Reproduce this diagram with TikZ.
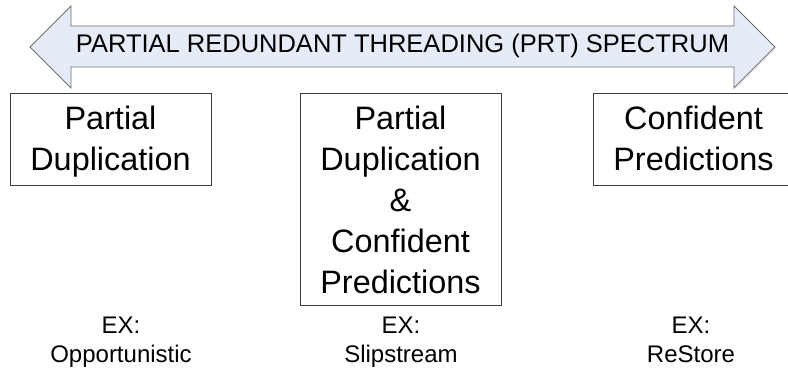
\documentclass[tikz,border=0pt]{standalone}
\usepackage{fontspec}
\setmainfont{Liberation Sans}
\definecolor{arrowfill}{RGB}{230,236,247}
\definecolor{arrowline}{RGB}{110,110,110}
\definecolor{boxline}{RGB}{60,60,60}
\begin{document}
\begin{tikzpicture}[x=1pt,y=-1pt,
  bigbox/.style={draw=boxline, line width=1pt, minimum width=201pt, inner sep=0pt, align=center,
    font=\fontsize{32.4pt}{41pt}\selectfont},
  exlabel/.style={anchor=north, inner sep=0pt, align=center, font=\fontsize{24pt}{29pt}\selectfont},
  spectrum/.style={fill=arrowfill, draw=arrowline, line width=0.8pt, line join=miter}]
\useasboundingbox (0,0) rectangle (788,369);
\fill[white] (0,0) rectangle (788,369);
% double arrow
\draw[spectrum] (30,47) -- (71,6) -- (71,26) -- (734,26) -- (734,6) -- (775,47)
  -- (734,88) -- (734,67) -- (71,67) -- (71,88) -- cycle;
\node[anchor=base, inner sep=0pt, font=\fontsize{25.5pt}{30pt}\selectfont] (title) at (402.5,53)
  {PARTIAL REDUNDANT THREADING (PRT) SPECTRUM};
% boxes
\node[bigbox, minimum height=91pt, text height=64pt, text depth=3pt] (pd) at (110.5,139.5) {Partial\\Duplication};
\node[bigbox, minimum height=211pt, text height=187pt, text depth=0pt] (pdcp) at (400.5,199.5) {Partial\\Duplication\\\&\\Confident\\Predictions};
\node[bigbox, minimum height=91pt, text height=64pt, text depth=3pt] (cp) at (693.5,139.5) {Confident\\Predictions};
% examples
\node[exlabel] (ex1) at (121,316.5) {EX:\\Opportunistic};
\node[exlabel] (ex2) at (401,316.5) {EX:\\Slipstream};
\node[exlabel] (ex3) at (691,316.5) {EX:\\ReStore};
\end{tikzpicture}
\end{document}
